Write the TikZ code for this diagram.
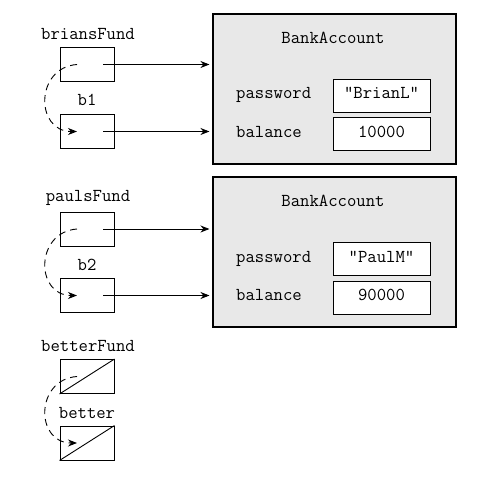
\documentclass[tikz,border=0pt]{standalone}
\usepackage{fontspec}
\usetikzlibrary{arrows.meta}
\definecolor{bankgray}{RGB}{232,232,232}
\begin{document}
\begin{tikzpicture}[x=1pt,y=-1pt,
  tt/.style={font=\ttfamily\fontsize{18.2}{20}\selectfont, inner sep=0pt},
  ptr/.style={draw, line width=0.9pt, minimum width=54pt, minimum height=34pt, inner sep=0pt},
  bank/.style={draw, line width=1.1pt, fill=bankgray, minimum width=243pt, minimum height=150pt, inner sep=0pt},
  val/.style={tt, draw, fill=white, line width=0.9pt, minimum width=97pt, minimum height=33pt, text height=10.5pt, text depth=3.5pt},
  ref/.style={line width=0.9pt, -{Stealth[length=9pt,width=7pt]}, shorten >=3pt},
  alias/.style={line width=0.9pt, dash pattern=on 7pt off 5pt, -{Stealth[length=9pt,width=7pt]}},
  nullline/.style={line width=0.9pt}]
\useasboundingbox (0,0) rectangle (487,478);
\coordinate (fx) at (236,0);

% bank accounts
\node[bank] (ba1) at (334.5,89) {};
\node[tt, anchor=base] (t1) at (333,44) {BankAccount};
\node[val] (pw1) at (381.5,95.5) {"BrianL"};
\node[val] (bl1) at (381.5,134) {10000};
\node[tt, anchor=base west] (pl1) at (pw1.base -| fx) {password};
\node[tt, anchor=base west] (bll1) at (bl1.base -| fx) {balance};

\node[bank] (ba2) at (334.5,252) {};
\node[tt, anchor=base] (t2) at (333,207) {BankAccount};
\node[val] (pw2) at (381.5,258.5) {"PaulM"};
\node[val] (bl2) at (381.5,297.5) {90000};
\node[tt, anchor=base west] (pl2) at (pw2.base -| fx) {password};
\node[tt, anchor=base west] (bll2) at (bl2.base -| fx) {balance};

% reference variables
\node[ptr] (pf1) at (87,64.5) {};
\node[ptr] (b1) at (87,131.5) {};
\node[ptr] (pf2) at (87,229) {};
\node[ptr] (b2) at (87,295.5) {};
\node[ptr] (bf) at (87,376.5) {};
\node[ptr] (bt) at (87,443) {};

\node[tt, anchor=base] (lpf1) at (88,39.5) {briansFund};
\node[tt, anchor=base] (lb1) at (87,106) {b1};
\node[tt, anchor=base] (lpf2) at (88,202) {paulsFund};
\node[tt, anchor=base] (lb2) at (87,270) {b2};
\node[tt, anchor=base] (lbf) at (88,351) {betterFund};
\node[tt, anchor=base] (lbt) at (87,418) {better};

% references to objects
\draw[ref] ([xshift=16pt]pf1.center) -- (pf1.center -| ba1.west);
\draw[ref] ([xshift=16pt]b1.center) -- (b1.center -| ba1.west);
\draw[ref] ([xshift=16pt]pf2.center) -- (pf2.center -| ba2.west);
\draw[ref] ([xshift=16pt]b2.center) -- (b2.center -| ba2.west);

% null references
\draw[nullline] (bf.south west) -- (bf.north east);
\draw[nullline] (bt.south west) -- (bt.north east);

% aliasing (dashed)
\draw[alias] ([xshift=-10pt]pf1.center) .. controls +(-42,3) and +(-42,0) .. ([xshift=-10pt]b1.center);
\draw[alias] ([xshift=-10pt]pf2.center) .. controls +(-42,3) and +(-42,0) .. ([xshift=-10pt]b2.center);
\draw[alias] ([xshift=-10pt]bf.center) .. controls +(-42,3) and +(-42,0) .. ([xshift=-10pt]bt.center);
\end{tikzpicture}
\end{document}
